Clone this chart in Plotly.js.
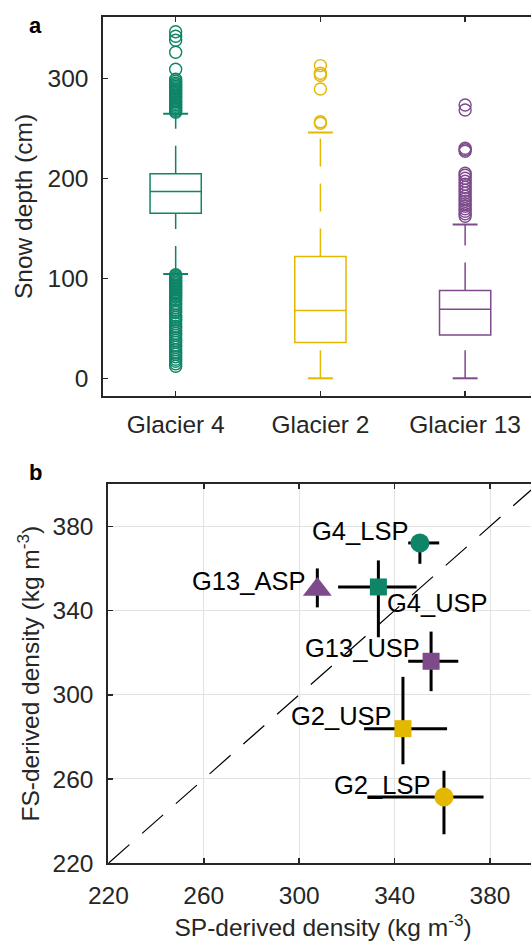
<!DOCTYPE html>
<html><head><meta charset="utf-8">
<script src="https://cdn.plot.ly/plotly-3.0.1.min.js"></script>
<style>html,body{margin:0;padding:0;overflow:hidden;background:#fff}#chart{width:540px;height:941px}</style>
</head><body><div id="chart"></div>
<script>
// ---------- Panel a: snow depth box plots ----------
const glaciers = ['Glacier 4', 'Glacier 2', 'Glacier 13'];
const q1 = [165, 35.7, 43.3];
const medians = [186.7, 67.7, 69];
const q3 = [204.6, 121.7, 87.7];
const whiskerLow = [104.3, 0, 0];
const whiskerHigh = [264.6, 245.7, 153.7];
const outliersG4 = [266, 267.5, 269, 270.5, 272, 273.5, 275, 276.5, 278, 280, 281.5, 283, 284.5, 286, 287.5, 289, 290.5, 292, 293.5, 295, 297, 299, 309, 326, 338, 342, 346.5,
  103.5, 102, 100.5, 99, 97.5, 96, 94.5, 93, 91.5, 90, 88.5, 87, 85.5, 84, 82.5, 81, 79, 77.5, 75, 73, 70.5, 68, 66, 63, 61, 59, 57, 54.5, 52, 50, 47.5, 45, 43, 40.5, 38, 36, 33, 31, 28.5, 26, 24, 21.5, 19, 17, 14.5, 12];
const outliersG2 = [255, 256.5, 289.3, 303, 305, 312.7];
const outliersG13 = [268.3, 273.3, 227, 228.5, 230, 162, 164.5, 167, 169.5, 172, 174.5, 177, 179.5, 182, 185, 188, 191, 194, 197, 200, 203, 205];
const depthTicks = [0, 100, 200, 300];

// ---------- Panel b: density comparison ----------
const sites = ['G4_LSP', 'G4_USP', 'G13_ASP', 'G13_USP', 'G2_USP', 'G2_LSP'];
const spDensity = [350.6, 333.2, 307.6, 355.3, 343.5, 360.7];
const fsDensity = [372.1, 351.2, 350.0, 315.9, 283.9, 251.4];
const spErrPlus = [8.1, 16.0, 0, 11.4, 18.5, 16.6];
const spErrMinus = [4.9, 16.9, 0, 9.6, 16.3, 32.1];
const fsErrPlus = [3, 12.6, 10, 14.1, 24.6, 12.5];
const fsErrMinus = [9.9, 23.9, 8.5, 14.2, 16.9, 17.7];
const densityTicks = [220, 260, 300, 340, 380];
const oneToOne = [220, 400];

// ---------- styles ----------
const colors = {'Glacier 4': '#0e8567', 'Glacier 2': '#e3b800', 'Glacier 13': '#7d4a8c'};
const siteStyle = {
  G4_LSP: {g: 'Glacier 4', symbol: 'circle', size: 19, anchor: 'right', dx: -10, dy: 12},
  G4_USP: {g: 'Glacier 4', symbol: 'square', size: 17, anchor: 'left', dx: 7, dy: -16},
  G13_ASP: {g: 'Glacier 13', symbol: 'triangle-up', size: 25, anchor: 'right', dx: -10, dy: 8},
  G13_USP: {g: 'Glacier 13', symbol: 'square', size: 17, anchor: 'right', dx: -9, dy: 13},
  G2_USP: {g: 'Glacier 2', symbol: 'square', size: 17, anchor: 'right', dx: -9, dy: 13},
  G2_LSP: {g: 'Glacier 2', symbol: 'circle', size: 19, anchor: 'right', dx: -12, dy: 12}
};
const FONT = 'Arial, "Liberation Sans", Helvetica, sans-serif';
const AX = '#262626';
const boxWidth = 0.354, capHalf = 0.086;
const outlierSets = [outliersG4, outliersG2, outliersG13];

const traces = [];
glaciers.forEach((g, i) => {
  const pos = i + 1, c = colors[g];
  traces.push({type: 'box', orientation: 'v', x: [pos], q1: [q1[i]], median: [medians[i]], q3: [q3[i]],
    lowerfence: [q1[i]], upperfence: [q3[i]], width: boxWidth, whiskerwidth: 0,
    fillcolor: 'rgba(0,0,0,0)', line: {color: c, width: 1.5}, boxpoints: false,
    xaxis: 'x', yaxis: 'y', showlegend: false, hoverinfo: 'skip'});
  // whiskers (dashed), drawn from the lower end up
  [[whiskerLow[i], q1[i]], [q3[i], whiskerHigh[i]]].forEach(seg => {
    traces.push({type: 'scatter', mode: 'lines', x: [pos, pos], y: seg,
      line: {color: c, width: 1.5, dash: '28px,17px'}, xaxis: 'x', yaxis: 'y', showlegend: false, hoverinfo: 'skip'});
  });
  // whisker caps
  traces.push({type: 'scatter', mode: 'lines', x: [pos - capHalf, pos + capHalf, null, pos - capHalf, pos + capHalf],
    y: [whiskerLow[i], whiskerLow[i], null, whiskerHigh[i], whiskerHigh[i]],
    line: {color: c, width: 2}, xaxis: 'x', yaxis: 'y', showlegend: false, hoverinfo: 'skip'});
  // outliers
  traces.push({type: 'scatter', mode: 'markers', x: outlierSets[i].map(() => pos), y: outlierSets[i],
    marker: {symbol: 'circle-open', size: 12, color: c, line: {width: 1.4, color: c}},
    xaxis: 'x', yaxis: 'y', showlegend: false, hoverinfo: 'skip'});
});

// 1:1 line
traces.push({type: 'scatter', mode: 'lines', x: oneToOne, y: oneToOne,
  line: {color: '#000', width: 1.2, dash: '28px,17px'}, xaxis: 'x2', yaxis: 'y2', showlegend: false, hoverinfo: 'skip'});
// error bars (below markers)
traces.push({type: 'scatter', mode: 'markers', x: spDensity, y: fsDensity,
  marker: {size: 1, opacity: 0},
  error_x: {type: 'data', symmetric: false, array: spErrPlus, arrayminus: spErrMinus, color: '#000', thickness: 3, width: 0},
  error_y: {type: 'data', symmetric: false, array: fsErrPlus, arrayminus: fsErrMinus, color: '#000', thickness: 3, width: 0},
  xaxis: 'x2', yaxis: 'y2', showlegend: false, hoverinfo: 'skip'});
// density points
traces.push({type: 'scatter', mode: 'markers', x: spDensity, y: fsDensity,
  marker: {symbol: sites.map(s => siteStyle[s].symbol), size: sites.map(s => siteStyle[s].size), opacity: 1,
    color: sites.map(s => colors[siteStyle[s].g]), line: {width: 0}},
  xaxis: 'x2', yaxis: 'y2', showlegend: false, hoverinfo: 'skip'});

const W = 540, H = 941;
const annotations = sites.map((s, k) => ({
  xref: 'x2', yref: 'y2', x: spDensity[k], y: fsDensity[k], text: s, showarrow: false,
  xanchor: siteStyle[s].anchor, yanchor: 'middle', xshift: siteStyle[s].dx, yshift: siteStyle[s].dy,
  font: {family: FONT, size: 25.5, color: '#000'}
}));
annotations.push({xref: 'paper', yref: 'paper', x: 27 / W, y: 1 - 11 / H, xanchor: 'left', yanchor: 'top',
  text: '<b>a</b>', showarrow: false, font: {family: FONT, size: 22, color: '#000'}});
annotations.push({xref: 'paper', yref: 'paper', x: 27 / W, y: 1 - 458 / H, xanchor: 'left', yanchor: 'top',
  text: '<b>b</b>', showarrow: false, font: {family: FONT, size: 22, color: '#000'}});

const axisCommon = {showline: true, linecolor: AX, linewidth: 2, ticks: 'inside', ticklen: 5, tickwidth: 1.5,
  tickcolor: AX, mirror: 'ticks', zeroline: false, tickfont: {family: FONT, size: 24.5, color: AX}};

const layout = {
  width: W, height: H, autosize: false, margin: {l: 0, r: 0, t: 0, b: 0},
  paper_bgcolor: '#fff', plot_bgcolor: '#fff', font: {family: FONT, color: AX},
  showlegend: false,
  xaxis: Object.assign({}, axisCommon, {domain: [103.3 / W, 537.5 / W], range: [0.5, 3.5],
    tickvals: [1, 2, 3], ticktext: glaciers, showgrid: false, anchor: 'y', ticklabelstandoff: 6}),
  yaxis: Object.assign({}, axisCommon, {domain: [1 - 396 / H, 1 - 17 / H], range: [-17.7, 361.3],
    tickvals: depthTicks, showgrid: false, anchor: 'x', ticklabelstandoff: 8,
    title: {text: 'Snow depth (cm)', font: {family: FONT, size: 24.5, color: AX}, standoff: 8}}),
  xaxis2: Object.assign({}, axisCommon, {domain: [108.4 / W, 537.7 / W], range: [220, 400],
    tickvals: densityTicks, showgrid: true, gridcolor: '#e2e2e2', gridwidth: 1, anchor: 'y2', ticklabelstandoff: 9,
    title: {text: 'SP-derived density (kg m<sup>-3</sup>)', font: {family: FONT, size: 24.5, color: AX}, standoff: 16}}),
  yaxis2: Object.assign({}, axisCommon, {domain: [1 - 863.2 / H, 1 - 484.2 / H], range: [220, 400],
    tickvals: densityTicks, showgrid: true, gridcolor: '#e2e2e2', gridwidth: 1, anchor: 'x2', ticklabelstandoff: 8,
    title: {text: 'FS-derived density (kg m<sup>-3</sup>)', font: {family: FONT, size: 24.5, color: AX}, standoff: 6}}),
  annotations: annotations
};

Plotly.newPlot('chart', traces, layout, {displayModeBar: false, staticPlot: true});
</script>
</body></html>
